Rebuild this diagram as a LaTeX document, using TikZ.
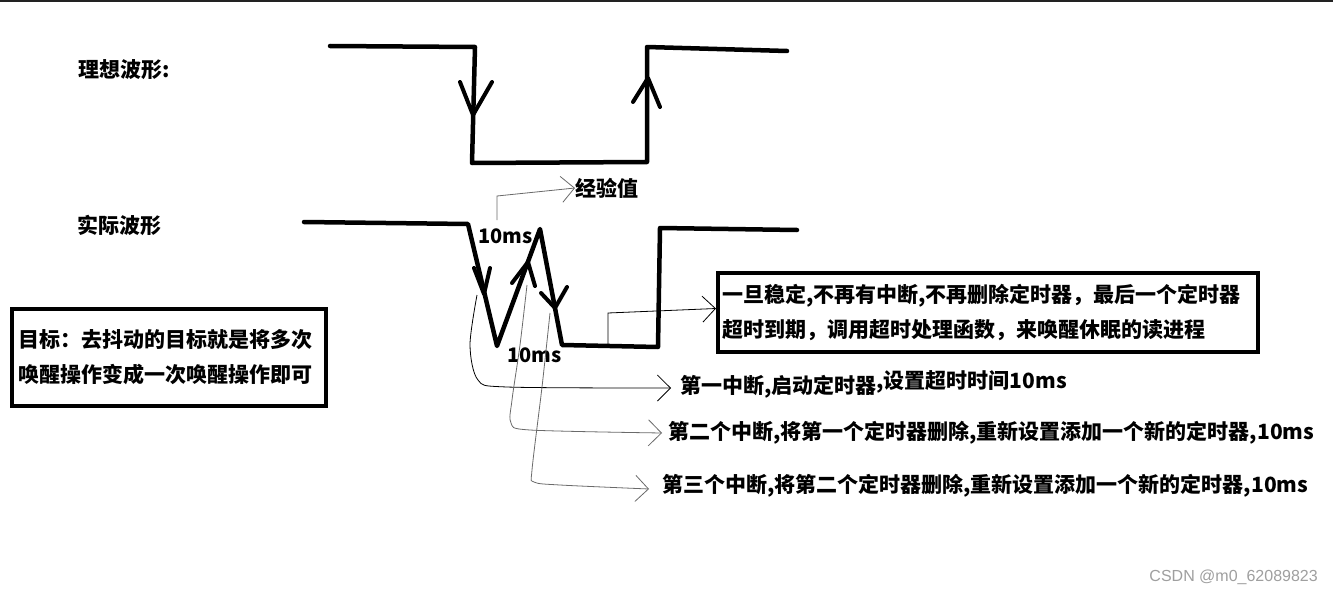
\documentclass[tikz,border=0pt]{standalone}
\usepackage{fontspec}
\newfontfamily\cjk{Noto Sans CJK SC}
\newfontfamily\wmfont{Liberation Sans}
\usetikzlibrary{arrows.meta}
\definecolor{topline}{HTML}{222222}
\definecolor{thingray}{HTML}{6A6A6A}
\begin{document}
\begin{tikzpicture}[x=1pt,y=-1pt,
  wave/.style={line width=4.5pt, line cap=round, line join=round},
  chev/.style={line width=4pt, line cap=round, line join=round},
  lab/.style={font=\cjk\bfseries\fontsize{21}{25}\selectfont, inner sep=0pt, anchor=west},
  boxed/.style={draw, line width=4pt, inner ysep=0pt, align=left,
     font=\cjk\bfseries\fontsize{21}{35}\selectfont, anchor=north west},
  conn/.style={line width=0.8pt, -{Straight Barb[length=13pt,width=26pt]}},
]
\useasboundingbox (0,0) rectangle (1333,594);
\fill[white] (0,0) rectangle (1333,594);
\draw[line width=3pt, topline] (0,1) -- (1333,1);

% ideal waveform
\node[lab] (ideal) at (78,70) {理想波形:};
\draw[wave] (330,46) -- (475,47) -- (472,163) -- (647,162) -- (647,47) -- (787,51);
\draw[chev] (460,82) -- (473,115) -- (492,82);
\draw[chev] (633,102) -- (648,78) -- (660,107);

% actual waveform
\node[lab] (actual) at (77,225) {实际波形};
\draw[wave] (304,222) -- (468,224) -- (497,346) -- (540,229) -- (562,345) -- (658,347) -- (660,228) -- (797,230);
\draw[chev] (474,268) -- (484,294) -- (490,268);
\draw[chev] (512,283) -- (528,262) -- (535,286);
\draw[chev] (541,293) -- (555,308) -- (567,287);

\node[lab, font=\cjk\bfseries\fontsize{20}{24}\selectfont] (t1) at (478,236) {10ms};
\node[lab, font=\cjk\bfseries\fontsize{20}{24}\selectfont] (t2) at (507,355) {10ms};
\node[lab] (exp) at (575,188) {经验值};
\coordinate (c1) at (497,220);
\draw[conn, thingray] (c1) -- (497,196) -- (exp.west);

% goal box
\node[boxed, text width=300pt, inner xsep=7pt, minimum height=97pt] (goal) at (10,307)
  {目标：去抖动的目标就是将多次\\唤醒操作变成一次唤醒操作即可};

% stable box
\node[boxed, text width=532pt, inner xsep=4pt, minimum height=79pt] (stab) at (716,271)
  {一旦稳定,不再有中断,不再删除定时器，最后一个定时器\\超时到期，调用超时处理函数，来唤醒休眠的读进程};
\coordinate (c2) at (608,345);
\draw[conn] (c2) -- (608,313) -- ([yshift=4pt]stab.west);

% labels right
\node[lab] (l1) at (680,384) {第一中断,启动定时器\raisebox{5pt}{,设置超时时间10ms}};
\node[lab] (l2) at (668,433) {第二个中断,将第一个定时器删除,重新设置添加一个新的定时器,10ms};
\node[lab] (l3) at (662,486) {第三个中断,将第二个定时器删除,重新设置添加一个新的定时器,10ms};

\coordinate (s1) at (477,295);
\coordinate (s2) at (527,285);
\coordinate (s3) at (550,313);
\draw[conn, black] plot[smooth, tension=0.5] coordinates {(s1) (470,345) (478,380) (507,387) ([xshift=-9pt,yshift=-4pt]l1.west)};
\draw[conn, thingray] plot[smooth, tension=0.5] coordinates {(s2) (520,345) (512,400) (511,423) (530,430) ([xshift=-6pt]l2.west)};
\draw[conn, thingray] plot[smooth, tension=0.5] coordinates {(s3) (542,387) (532,470) (534,482) (560,485) ([xshift=-13pt,yshift=-3pt]l3.west)};

% watermark
\node[font=\wmfont\fontsize{16}{18}\selectfont, text=gray!75, anchor=east, inner sep=0pt] (wm) at (1318,577) {CSDN @m0\_62089823};
\end{tikzpicture}
\end{document}
